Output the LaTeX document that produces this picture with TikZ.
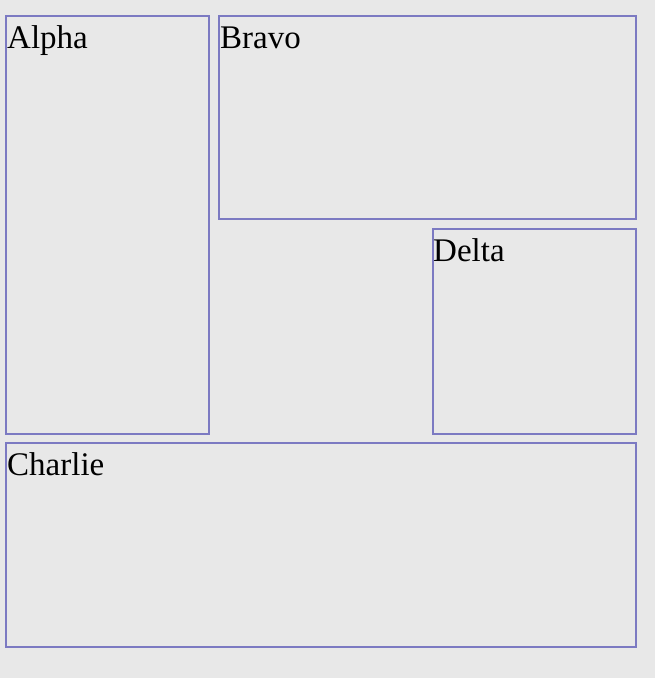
\documentclass[tikz,border=0pt]{standalone}
\usepackage{fontspec}
\setmainfont{Liberation Serif}
\usepackage{xcolor}
\definecolor{panelline}{HTML}{7C7AC2}
\definecolor{pagegray}{HTML}{E8E8E8}

\begin{document}
\begin{tikzpicture}[x=1pt, y=-1pt,
    panel/.style={draw=panelline, line width=2pt, fill=pagegray, rectangle, inner sep=0pt, outer sep=0pt, anchor=north west},
    tag/.style={inner sep=0pt, anchor=base west, font=\fontsize{33}{40}\selectfont}]
  \fill[pagegray] (0,0) rectangle (655,678);
  \useasboundingbox (0,0) rectangle (655,678);

  \node [panel, minimum width=203pt, minimum height=418pt] (alpha) at (5.5,15.5) {};
  \node [panel, minimum width=417pt, minimum height=203pt] (bravo) at (218.5,15.5) {};
  \node [panel, minimum width=203pt, minimum height=205pt] (delta) at (432.5,228.5) {};
  \node [panel, minimum width=630pt, minimum height=204pt] (charlie) at (5.5,442.5) {};

  \node [tag] (alphatag) at ([xshift=1.5pt, yshift=-32.5pt]alpha.north west) {Alpha};
  \node [tag] (bravotag) at ([xshift=1.5pt, yshift=-32.5pt]bravo.north west) {Bravo};
  \node [tag] (deltatag) at ([xshift=0.5pt, yshift=-32.5pt]delta.north west) {Delta};
  \node [tag] (charlietag) at ([xshift=1.5pt, yshift=-32.5pt]charlie.north west) {Charlie};
\end{tikzpicture}
\end{document}
